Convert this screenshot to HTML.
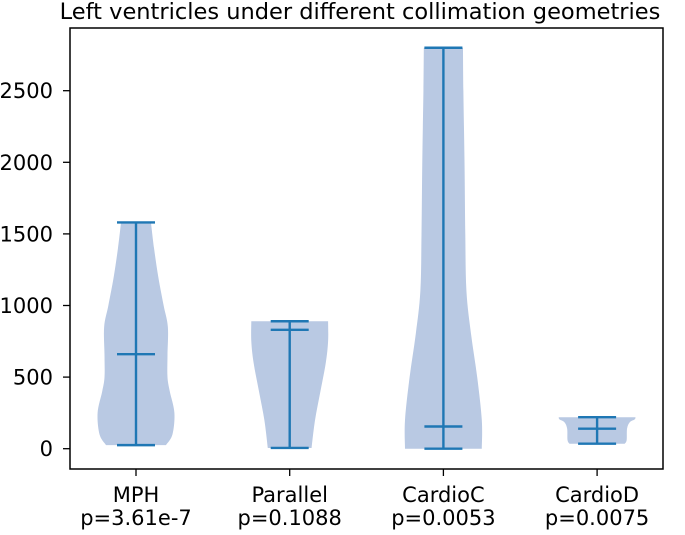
<!DOCTYPE html>
<html><head><meta charset="utf-8"><style>
body{margin:0;background:#fff}
svg text{font-family:"DejaVu Sans","Liberation Sans",sans-serif;font-size:21px;fill:#000}
</style></head><body>
<svg id="chart" width="685" height="530">
<text x="360" y="19" text-anchor="middle" style="font-size:22.5px">Left ventricles under different collimation geometries</text>
<g id="plot"></g>
<rect x="70" y="28" width="593" height="441" fill="none" stroke="#000" stroke-width="1.5"/>
</svg>
<script>
const categories=["MPH","Parallel","CardioC","CardioD"];
const pvalues=["p=3.61e-7","p=0.1088","p=0.0053","p=0.0075"];
const mins=[25,5,0,35];
const maxs=[1580,890,2800,220];
const medians=[660,830,155,140];
const kdeLevels=[
 [25,100,250,400,500,650,850,1000,1200,1400,1580],
 [5,200,400,600,750,890],
 [0,200,500,800,1100,1500,2000,2500,2800],
 [35,60,140,185,205,220]];
const kdeDensity=[
 [0.78,0.95,1.0,0.88,0.82,0.82,0.83,0.72,0.58,0.47,0.39],
 [0.57,0.66,0.8,0.94,1.0,1.0],
 [1.0,1.0,0.88,0.72,0.6,0.57,0.55,0.52,0.51],
 [0.72,0.77,0.78,0.85,0.98,1.0]];
const yTicks=[0,500,1000,1500,2000,2500];
const L=70,R=663,T=28,B=469;
const y=v=>448.7-v*(71.6/500);
const x=i=>136+i*153.7;
const halfMax=38.4,cap=19;
const g=document.getElementById('plot');
const NS="http://www.w3.org/2000/svg";
function mk(t,a){const e=document.createElementNS(NS,t);for(const k in a)e.setAttribute(k,a[k]);g.appendChild(e);return e;}
function spline(pts){let d='';for(let j=0;j<pts.length-1;j++){const p0=pts[Math.max(j-1,0)],p1=pts[j],p2=pts[j+1],p3=pts[Math.min(j+2,pts.length-1)];
 const c1=[p1[0]+(p2[0]-p0[0])/6,p1[1]+(p2[1]-p0[1])/6],c2=[p2[0]-(p3[0]-p1[0])/6,p2[1]-(p3[1]-p1[1])/6];
 d+=` C${c1[0]},${c1[1]} ${c2[0]},${c2[1]} ${p2[0]},${p2[1]}`;}return d;}
yTicks.forEach(v=>{
 const l=mk('line',{x1:L-7,x2:L,y1:y(v),y2:y(v),stroke:'#000','stroke-width':1.3});
 
 
 const t=mk('text',{x:L-17,y:y(v)+7.5,'text-anchor':'end'});t.textContent=v;
 
 
});
categories.forEach((c,i)=>{
 const cx=x(i),lv=kdeLevels[i],d=kdeDensity[i];
 const right=lv.map((v,j)=>[cx+d[j]*halfMax,y(v)]);
 const left=lv.map((v,j)=>[cx-d[j]*halfMax,y(v)]).reverse();
 const path=`M${right[0][0]},${right[0][1]}`+spline(right)+` L${left[0][0]},${left[0][1]}`+spline(left)+' Z';
 const p=mk('path',{d:path,fill:'#b9c9e3'});
 
 
 const ln=mk('line',{x1:cx,x2:cx,y1:y(mins[i]),y2:y(maxs[i]),stroke:'#1f77b4','stroke-width':2.4});
 
 
 [mins[i],maxs[i],medians[i]].forEach((v,k)=>{
  const cp=mk('line',{x1:cx-cap,x2:cx+cap,y1:y(v),y2:y(v),stroke:'#1f77b4','stroke-width':2.4});
  
  
 });
 const tk=mk('line',{x1:cx,x2:cx,y1:B,y2:B+7,stroke:'#000','stroke-width':1.3});
 
 
 const t1=mk('text',{x:cx,y:502,'text-anchor':'middle'});t1.textContent=c;
 
 
 const t2=mk('text',{x:cx,y:525,'text-anchor':'middle'});t2.textContent=pvalues[i];
 
 
});
</script>
</body></html>
